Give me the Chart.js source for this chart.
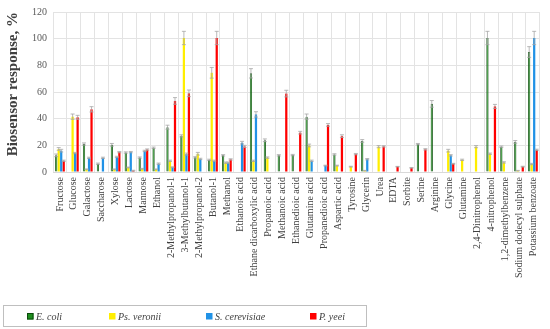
<!DOCTYPE html>
<html>
<head>
<meta charset="utf-8">
<script src="https://cdn.jsdelivr.net/npm/chart.js@4"></script>
<style>
html,body{margin:0;padding:0;background:#fff;}
#wrap{position:relative;width:550px;height:329px;}
</style>
</head>
<body>
<div id="wrap"><canvas id="c" width="550" height="329"></canvas></div>
<script>
const categories = ["Fructose","Glucose","Galactose","Saccharose","Xylose","Lactose","Mannose","Ethanol","2-Methylpropanol-1","3-Methylbutanol-1","2-Methylpropanol-2","Butanol-1","Methanol","Ethanoic acid","Ethane dicarboxylic acid","Propanoic acid","Methanoic acid","Ethanedioic acid","Glutamine acid","Propanedioic acid","Aspartic acid","Tyrosine","Glycerin","Urea","EDTA","Sorbite","Serine","Arginine","Glycine","Glutamine","2,4-Dinitrophenol","4-nitrophenol","1,2-dimethylbenzene","Sodium dodecyl sulphate","Potassium benzoate"];

const seriesNames = ["E. coli","Ps. veronii","S. cerevisiae","P. yeei"];

const eColi       = [12.5,0,21,6.2,20.4,14.6,10.8,18.2,33.6,27.1,11,9.1,12.5,0,74,23.8,12.5,12.7,41.5,0,13.2,0,23.3,0,0,0,20.9,51.1,0,0,0,100.5,19,22.6,90];
const psVeronii   = [17.3,41.5,2,0,2,3.4,2.4,2,8.4,100.5,13.7,74.4,7,0,8.4,10.8,0,0,19.9,0,4.8,4,1,19,0,0,0,0,16,9.1,19,13.7,7.2,1,6];
const sCerevisiae = [16,14.2,10.6,10.6,11.3,14.9,15.8,6.2,3.6,13.4,9.8,8.4,7,22,43.2,0,0,0,8.4,4.8,0,0,9.6,0,0,0,0,0,12.5,0,0,0,0,0,100.5];
const pYeei       = [8.4,41,47,0,14.9,1,16.8,0,53.3,59,0,100.5,9.4,19.2,0,0,58.8,29.5,0,35.3,26.9,13.4,0,19.2,4,3.1,17,0,6.2,0,0,49.2,0,4,16.6];

const eColiErr       = [1,0,0.8,0.5,1,0.5,0.5,0.5,1.5,0.8,0.5,0.5,0.5,0,3.5,1,0.5,0.5,2,0,0.5,0,1,0,0,0,0.5,2.5,0,0,0,5,0.5,1,4];
const psVeroniiErr   = [1,2,0.3,0,0.3,0.3,0.3,0.3,0.5,5,1,4,0.5,0,0.5,0.5,0,0,1,0,0.3,0.3,0.2,0.8,0,0,0,0,1,0.5,0.8,0.5,0.5,0.2,0.5];
const sCerevisiaeErr = [1,0.5,0.5,0.5,0.5,0.5,0.5,0.5,0.3,0.8,0.5,0.5,0.5,1,2,0,0,0,0.5,0.3,0,0,0.5,0,0,0,0,0,0.5,0,0,0,0,0,5];
const pYeeiErr       = [0.5,1.5,2,0,0.5,0.3,0.5,0,2.5,2.5,0,5,0.5,0.8,0,0,2.5,1,0,1,1,0.5,0,0.5,0.2,0.2,0.5,0,0.3,0,0,1.5,0,0.3,0.5];

const yTicks = [0,20,40,60,80,100,120];
const yTitle = "Biosensor response, %";

const fills   = ['#1f8f1f','#ffee00','#2192e6','#ff0000'];
const borders = ['#0c4a0c','#ffee00','#2192e6','#ff0000'];
const values = [eColi, psVeronii, sCerevisiae, pYeei];
const errors = [eColiErr, psVeroniiErr, sCerevisiaeErr, pYeeiErr];

const serif = "'Liberation Serif','DejaVu Serif',serif";

const errorBars = {
  id: 'errorBars',
  afterDatasetsDraw(chart) {
    const ctx = chart.ctx;
    const ys = chart.scales.y;
    ctx.save();
    ctx.strokeStyle = '#a6a6a6';
    ctx.lineWidth = 0.8;
    chart.data.datasets.forEach((ds, di) => {
      const meta = chart.getDatasetMeta(di);
      meta.data.forEach((el, i) => {
        const v = ds.data[i], e = ds.err[i];
        if (!v || !e) return;
        const yt = ys.getPixelForValue(v + e);
        const yb = ys.getPixelForValue(Math.max(0, v - e));
        const x = el.x;
        ctx.beginPath();
        ctx.moveTo(x, yt); ctx.lineTo(x, yb);
        ctx.moveTo(x - 2, yt); ctx.lineTo(x + 2, yt);
        ctx.moveTo(x - 2, yb); ctx.lineTo(x + 2, yb);
        ctx.stroke();
      });
    });
    ctx.restore();
  }
};

const boxLegend = {
  id: 'boxLegend',
  afterDraw(chart) {
    const ctx = chart.ctx;
    ctx.save();
    ctx.strokeStyle = '#bfbfbf';
    ctx.lineWidth = 1;
    ctx.strokeRect(3.5, 305.5, 363, 21);
    const xs = [27, 109, 206, 310];
    const cy = 316.5;
    ctx.font = "italic 10px " + serif;
    ctx.textBaseline = 'middle';
    ctx.textAlign = 'left';
    chart.data.datasets.forEach((ds, i) => {
      ctx.fillStyle = ds.backgroundColor;
      ctx.fillRect(xs[i], cy - 3.5, 6.5, 6.5);
      if (i === 0) {
        ctx.strokeStyle = ds.borderColor;
        ctx.lineWidth = 1;
        ctx.strokeRect(xs[i] + 0.5, cy - 3, 5.5, 5.5);
      }
      ctx.fillStyle = '#404040';
      ctx.fillText(ds.label, xs[i] + 9, cy + 0.5);
    });
    ctx.restore();
  }
};

new Chart(document.getElementById('c'), {
  type: 'bar',
  data: {
    labels: categories,
    datasets: seriesNames.map((n, i) => ({
      label: n,
      data: values[i],
      err: errors[i],
      backgroundColor: fills[i],
      borderColor: borders[i],
      borderWidth: i === 0 ? 0.8 : 0,
      categoryPercentage: 0.72,
      barPercentage: 0.9
    }))
  },
  options: {
    responsive: false,
    animation: false,
    devicePixelRatio: 1,
    layout: { padding: { left: 0, right: 5, top: 5, bottom: 0 } },
    plugins: { legend: { display: false }, tooltip: { enabled: false } },
    scales: {
      x: {
        grid: { color: '#e3e3e3', drawTicks: false, offset: true },
        border: { color: '#d9d9d9' },
        ticks: {
          autoSkip: false, minRotation: 90, maxRotation: 90, padding: 5,
          color: '#404040', font: { family: serif, size: 10 }
        },
        afterFit: s => { s.height = 157; }
      },
      y: {
        min: 0, max: 120,
        afterBuildTicks: s => { s.ticks = yTicks.map(v => ({ value: v })); },
        grid: { color: '#e3e3e3', drawTicks: false },
        border: { display: false },
        ticks: { padding: 6, color: '#595959', font: { family: serif, size: 10 } },
        title: {
          display: true, text: yTitle, align: 'end',
          color: '#404040', font: { family: serif, size: 15, weight: 'bold' },
          padding: { top: 4, bottom: 0 }
        },
        afterFit: s => { s.width = 53; }
      }
    }
  },
  plugins: [errorBars, boxLegend]
});
</script>
</body>
</html>
